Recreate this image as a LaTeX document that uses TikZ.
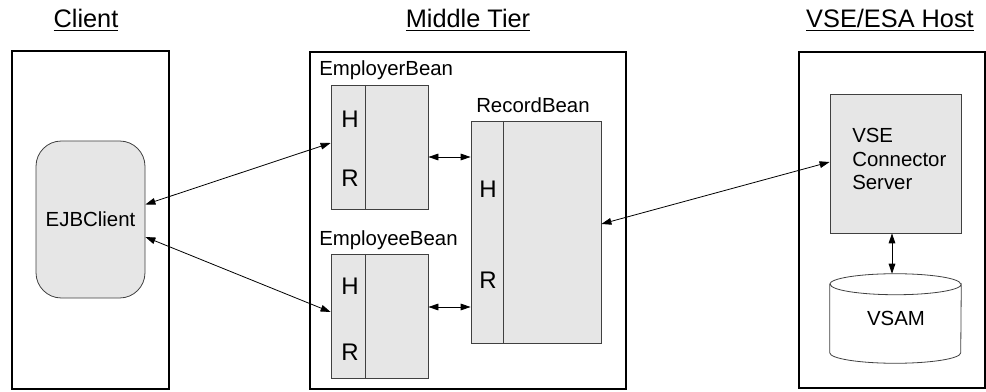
\documentclass[tikz,border=0pt]{standalone}
\usepackage{fontspec}
\setmainfont{Liberation Sans}
\usetikzlibrary{calc,arrows.meta}
\definecolor{boxfill}{HTML}{E6E6E6}
\begin{document}
\begin{tikzpicture}[x=0.75pt,y=-0.75pt,
  outer/.style={draw=black,line width=1.1pt,rectangle,inner sep=0pt},
  inner/.style={draw=black!75,line width=0.6pt,fill=boxfill,rectangle,inner sep=0pt},
  heading/.style={font=\fontsize{19}{22}\selectfont},
  lbl/.style={font=\fontsize{15.3}{18}\selectfont,inner sep=0pt,anchor=west},
  letter/.style={font=\fontsize{18}{21}\selectfont,inner sep=0pt},
  conn/.style={line width=0.6pt,{Triangle[length=7.5pt,width=5pt]}-{Triangle[length=7.5pt,width=5pt]}}]
\useasboundingbox (0,0) rectangle (986,392);
% headings
\node[heading] (hclient) at (86,20) {\underline{Client}};
\node[heading] (hmid) at (468,20) {\underline{Middle Tier}};
\node[heading] (hhost) at (890,20) {\underline{VSE/ESA Host}};
% outer boxes
\node[outer,minimum width=157*0.75pt,minimum height=338*0.75pt] (client) at (90.5,220) {};
\node[outer,minimum width=316*0.75pt,minimum height=337*0.75pt] (mid) at (468,220.5) {};
\node[outer,minimum width=186*0.75pt,minimum height=336*0.75pt] (host) at (892,220) {};
% EJB client
\node[inner,rounded corners=19pt,minimum width=109*0.75pt,minimum height=157*0.75pt,
  font=\fontsize{15.3}{18}\selectfont] (ejb) at (90.5,219.5) {EJBClient};
% beans
\node[inner,minimum width=97*0.75pt,minimum height=124*0.75pt] (er) at (379.5,147) {};
\node[inner,minimum width=97*0.75pt,minimum height=124*0.75pt] (ee) at (379.5,316) {};
\node[inner,minimum width=130*0.75pt,minimum height=222*0.75pt] (rec) at (536,232) {};
\draw[black!75,line width=0.6pt] (365,85) -- (365,209);
\draw[black!75,line width=0.6pt] (365,254) -- (365,378);
\draw[black!75,line width=0.6pt] (503,121) -- (503,343);
\node[lbl] (ler) at (319,70) {EmployerBean};
\node[lbl] (lee) at (319,240) {EmployeeBean};
\node[lbl] (lrec) at (476,105) {RecordBean};
\node[letter] (erh) at (350,119) {H};
\node[letter] (err) at (350,178) {R};
\node[letter] (eeh) at (350,286) {H};
\node[letter] (eer) at (350,352) {R};
\node[letter] (rech) at (488,189) {H};
\node[letter] (recr) at (488,280) {R};
% host side
\node[inner,minimum width=131*0.75pt,minimum height=139*0.75pt] (vse) at (895.5,163.5) {};
\node[lbl,align=left,font=\fontsize{15.3}{17.6}\selectfont] (vsetxt) at (852,159) {VSE\\Connector\\Server};
\node[rectangle,inner sep=0pt,minimum width=131*0.75pt,minimum height=89*0.75pt] (vsam) at (895.5,318.5) {};
\draw[black!75,line width=0.6pt] ($(vsam.north west)+(0,10.5)$) -- ($(vsam.south west)+(0,-10.5)$)
  arc[start angle=180,end angle=360,x radius=65.5,y radius=-10.5]
  -- ($(vsam.north east)+(0,10.5)$)
  arc[start angle=0,end angle=-180,x radius=65.5,y radius=-10.5];
\draw[black!75,line width=0.6pt] ($(vsam.north west)+(0,10.5)$)
  arc[start angle=180,end angle=360,x radius=65.5,y radius=10.5];
\node[font=\fontsize{15.3}{18}\selectfont,inner sep=0pt] (vsamtxt) at (896,318) {VSAM};
% connectors
\draw[conn] ($(ejb.east)+(0,-15)$) -- ($(er.west)+(0,-4)$);
\draw[conn] ($(ejb.east)+(0,17.5)$) -- ($(ee.west)+(0,-4)$);
\draw[conn] ($(er.east)+(0,10)$) coordinate (a1) -- (a1 -| rec.west);
\draw[conn] ($(ee.east)+(0,-9)$) coordinate (a2) -- (a2 -| rec.west);
\draw[conn] ($(rec.east)+(0,-8)$) -- ($(vse.west)+(0,-1.5)$);
\draw[conn] (vse.south -| 892,0) -- (vsam.north -| 892,0);
\end{tikzpicture}
\end{document}
